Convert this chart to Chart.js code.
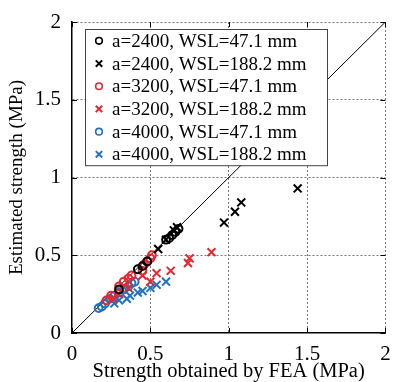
<!DOCTYPE html>
<html>
<head>
<meta charset="utf-8">
<script src="https://cdn.jsdelivr.net/npm/chart.js@4/dist/chart.umd.min.js"></script>
<style>
  html, body { margin: 0; padding: 0; background: #fff; }
  #wrap { width: 393px; height: 382px; position: relative; }
</style>
</head>
<body>
<div id="wrap"><canvas id="c"></canvas></div>
<script>
// ---- data ----
const seriesLabels = [
  'a=2400, WSL=47.1 mm',
  'a=2400, WSL=188.2 mm',
  'a=3200, WSL=47.1 mm',
  'a=3200, WSL=188.2 mm',
  'a=4000, WSL=47.1 mm',
  'a=4000, WSL=188.2 mm'
];
const a2400_47 = [[0.30,0.28],[0.42,0.41],[0.45,0.43],[0.48,0.46],[0.60,0.60],[0.62,0.61],[0.64,0.63],[0.66,0.65],[0.68,0.67]];
const a2400_188 = [[0.55,0.54],[0.60,0.60],[0.65,0.66],[0.67,0.68],[0.97,0.71],[1.04,0.78],[1.08,0.84],[1.44,0.93]];
const a3200_47 = [[0.22,0.21],[0.25,0.24],[0.30,0.30],[0.33,0.33],[0.36,0.35],[0.38,0.37],[0.45,0.40],[0.46,0.44],[0.48,0.46],[0.50,0.48],[0.51,0.50]];
const a3200_188 = [[0.26,0.22],[0.30,0.25],[0.36,0.29],[0.45,0.37],[0.50,0.33],[0.54,0.385],[0.63,0.40],[0.74,0.45],[0.75,0.48],[0.89,0.52]];
const a4000_47 = [[0.17,0.16],[0.19,0.17],[0.21,0.19],[0.24,0.22],[0.27,0.24],[0.30,0.26],[0.33,0.28],[0.36,0.30],[0.38,0.32],[0.40,0.33]];
const a4000_188 = [[0.27,0.19],[0.30,0.21],[0.35,0.22],[0.37,0.24],[0.42,0.26],[0.45,0.27],[0.50,0.29],[0.54,0.31],[0.60,0.33]];
const diagonal = [[0,0],[2,2]];
const tickValues = [0, 0.5, 1, 1.5, 2];
const xTitle = 'Strength obtained by FEA (MPa)';
const yTitle = 'Estimated strength (MPa)';

const BLACK = '#000000', RED = '#e8262b', BLUE = '#1f72bd';
const FONT = "'Liberation Serif', 'Times New Roman', serif";
const toPts = arr => arr.map(p => ({x: p[0], y: p[1]}));

function ds(label, data, color, style) {
  return {
    label, data: toPts(data), showLine: false,
    pointStyle: style,
    pointRadius: style === 'circle' ? 3.9 : 5.6,
    pointHoverRadius: style === 'circle' ? 3.9 : 5.6,
    borderColor: color, backgroundColor: 'rgba(0,0,0,0)',
    pointBorderWidth: 2,
    borderWidth: 2
  };
}

const datasets = [
  {label: '_diag', data: toPts(diagonal), showLine: true, borderColor: '#000', borderWidth: 1, pointRadius: 0, pointHoverRadius: 0, order: 10},
  ds(seriesLabels[0], a2400_47, BLACK, 'circle'),
  ds(seriesLabels[1], a2400_188, BLACK, 'crossRot'),
  ds(seriesLabels[2], a3200_47, RED, 'circle'),
  ds(seriesLabels[3], a3200_188, RED, 'crossRot'),
  ds(seriesLabels[4], a4000_47, BLUE, 'circle'),
  ds(seriesLabels[5], a4000_188, BLUE, 'crossRot')
];

// inward tick marks on all four sides
const tickPlugin = {
  id: 'inTicks',
  afterDatasetsDraw(chart) {
    const {ctx, chartArea: a, scales: {x, y}} = chart;
    ctx.save();
    ctx.strokeStyle = '#000';
    ctx.lineWidth = 1;
    ctx.beginPath();
    tickValues.forEach(v => {
      const px = Math.round(x.getPixelForValue(v)) + 0.5;
      ctx.moveTo(px, a.bottom); ctx.lineTo(px, a.bottom - 5);
      ctx.moveTo(px, a.top); ctx.lineTo(px, a.top + 5);
      const py = Math.round(y.getPixelForValue(v)) + 0.5;
      ctx.moveTo(a.left, py); ctx.lineTo(a.left + 5, py);
      ctx.moveTo(a.right, py); ctx.lineTo(a.right - 5, py);
    });
    ctx.stroke();
    ctx.restore();
  }
};

// boxed legend inside the plot area
const legendPlugin = {
  id: 'boxLegend',
  afterDraw(chart) {
    const {ctx, chartArea: a} = chart;
    const items = chart.data.datasets.filter(d => !d.label.startsWith('_'));
    const left = a.left + 13, top = a.top + 7, w = 242, rowH = 22.7;
    const h = rowH * items.length;
    ctx.save();
    ctx.fillStyle = '#fff';
    ctx.fillRect(left, top, w, h);
    ctx.strokeStyle = '#444';
    ctx.lineWidth = 1;
    ctx.strokeRect(Math.round(left) + 0.5, Math.round(top) + 0.5, w, h);
    ctx.font = '19px ' + FONT;
    ctx.textBaseline = 'middle';
    ctx.textAlign = 'left';
    items.forEach((d, i) => {
      const cy = top + rowH * (i + 0.5) + 0.5;
      const cx = left + 14;
      ctx.strokeStyle = d.borderColor;
      ctx.lineWidth = d.pointStyle === 'circle' ? 1.6 : 2;
      ctx.beginPath();
      if (d.pointStyle === 'circle') {
        ctx.arc(cx, cy, 3.3, 0, Math.PI * 2);
      } else {
        const r = 3.2;
        ctx.moveTo(cx - r, cy - r); ctx.lineTo(cx + r, cy + r);
        ctx.moveTo(cx + r, cy - r); ctx.lineTo(cx - r, cy + r);
      }
      ctx.stroke();
      ctx.fillStyle = '#000';
      ctx.fillText(d.label, left + 27, cy + 1);
    });
    ctx.restore();
  }
};

const axisCommon = {
  type: 'linear', min: 0, max: 2,
  afterBuildTicks(scale) { scale.ticks = tickValues.map(v => ({value: v})); },
  grid: {
    drawTicks: false,
    color: ctx => (ctx.tick && ctx.tick.value === 0) ? 'rgba(0,0,0,0)' : '#777',
    lineWidth: 1
  },
  border: {display: true, color: '#000', width: 1.5, dash: [2, 2]},
  ticks: {
    color: '#000',
    font: {family: FONT, size: 21},
    callback: v => String(v)
  }
};

new Chart(document.getElementById('c'), {
  type: 'scatter',
  data: {datasets},
  options: {
    responsive: true,
    maintainAspectRatio: false,
    animation: false,
    events: [],
    layout: {padding: {top: 22, right: 6, left: 0, bottom: 0}},
    plugins: {legend: {display: false}, tooltip: {enabled: false}},
    scales: {
      x: Object.assign({}, axisCommon, {
        afterFit(s) { s.height = 49; s.paddingLeft = 0; s.paddingRight = 0; },
        ticks: Object.assign({}, axisCommon.ticks, {padding: 9, maxRotation: 0}),
        title: {display: true, text: xTitle, color: '#000', font: {family: FONT, size: 20.5, lineHeight: 1}, padding: {top: 0, bottom: 0}}
      }),
      y: Object.assign({}, axisCommon, {
        afterFit(s) { s.width = 72; s.paddingTop = 0; s.paddingBottom = 0; },
        ticks: Object.assign({}, axisCommon.ticks, {padding: 11}),
        title: {display: true, text: yTitle, color: '#000', font: {family: FONT, size: 19, lineHeight: 1}, padding: {top: 8, bottom: 0}}
      })
    }
  },
  plugins: [tickPlugin, legendPlugin]
});
</script>
</body>
</html>
